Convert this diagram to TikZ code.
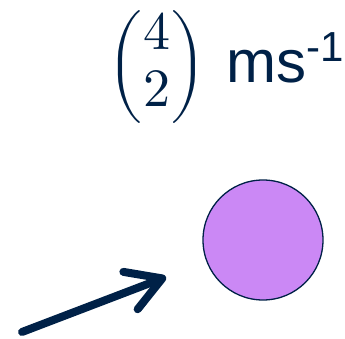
\documentclass[tikz,border=0pt]{standalone}
\usepackage{amsmath}
\usepackage{unicode-math}
\setmathfont{Latin Modern Math}
\newfontfamily\unitfont{Liberation Sans}
\usetikzlibrary{arrows.meta}
\definecolor{navyline}{RGB}{0,33,71}
\definecolor{ballviolet}{RGB}{203,136,245}

\begin{document}
\begin{tikzpicture}[x=1pt, y=-1pt, >=Latex]
  \tikzset{
    vel/.style={navyline, line width=8pt, line cap=round,
      -{Straight Barb[round, length=34pt, width=40pt]}},
    ball/.style={circle, draw=navyline, line width=1.3pt, fill=ballviolet, minimum size=120pt, inner sep=0pt},
    label/.style={text=navyline, inner sep=0pt}
  }
  \useasboundingbox (0,0) rectangle (345,339);

  % Main nodes
  \node[label, font=\fontsize{54}{60}\selectfont] (vec) at (157,67) {\renewcommand\arraystretch{0.95}$\begin{pmatrix}4\\2\end{pmatrix}$};
  \node[label, anchor=base west, font=\unitfont\fontsize{60}{70}\selectfont] (unit) at (226,83) {ms\textsuperscript{-1}};

  \node[ball] (ball) at (263,240) {};

  % Velocity arrow
  \coordinate (tail) at (22,332);
  \coordinate (tip) at (166,277);
  \draw[vel] (tail) -- (tip);

\end{tikzpicture}
\end{document}
